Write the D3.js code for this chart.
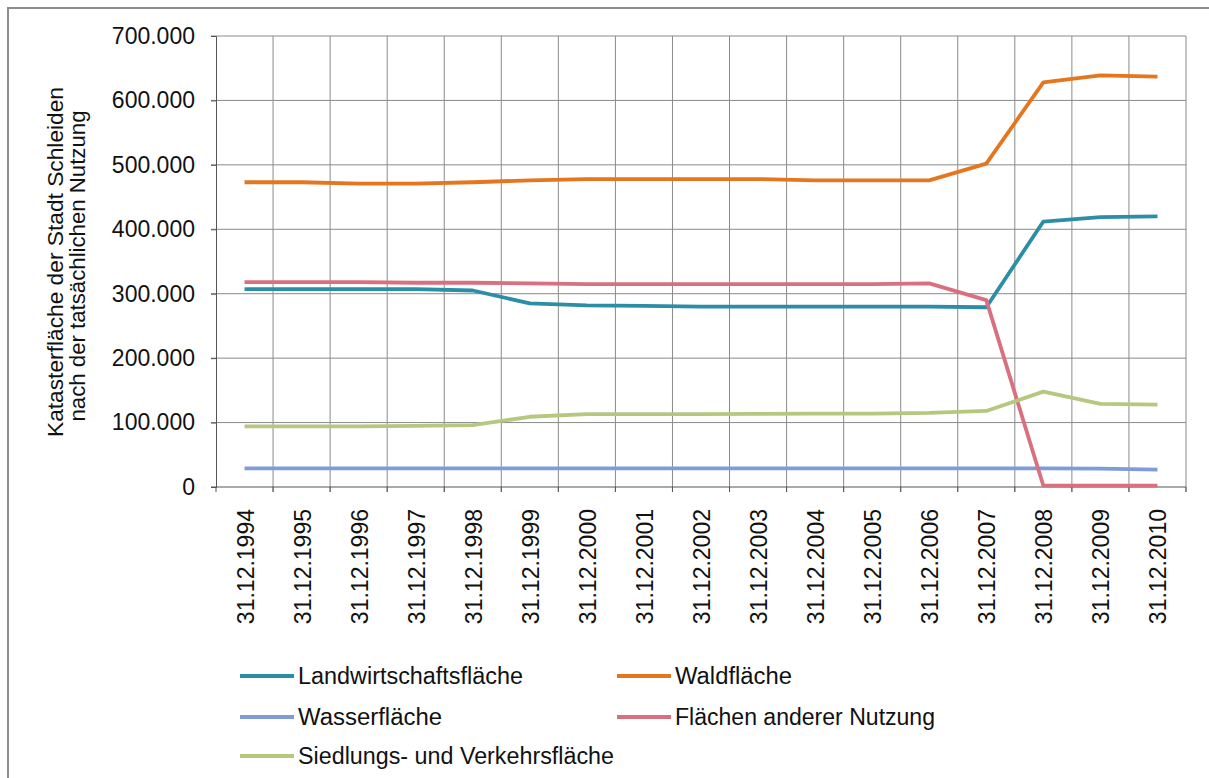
<!DOCTYPE html>
<html>
<head>
<meta charset="utf-8">
<script src="https://cdn.jsdelivr.net/npm/d3@7"></script>
<style>
  html, body { margin: 0; padding: 0; background: #ffffff; }
  svg { display: block; font-family: "Liberation Sans", Arial, sans-serif; }
</style>
</head>
<body>
<svg id="chart" width="1209" height="778"></svg>
<script>
// Stichtage (jeweils 31.12.)
const dates = ["31.12.1994","31.12.1995","31.12.1996","31.12.1997","31.12.1998","31.12.1999",
  "31.12.2000","31.12.2001","31.12.2002","31.12.2003","31.12.2004","31.12.2005",
  "31.12.2006","31.12.2007","31.12.2008","31.12.2009","31.12.2010"];

// Flächen nach tatsächlicher Nutzung
const landwirtschaft = [307000,307000,307000,307000,305000,285000,282000,281000,280000,280000,280000,280000,280000,279000,412000,419000,420000];
const wald           = [473000,473000,471000,471000,473000,476000,478000,478000,478000,478000,476000,476000,476000,502000,628000,639000,637000];
const wasser         = [29000,29000,29000,29000,29000,29000,29000,29000,29000,29000,29000,29000,29000,29000,29000,28500,27000];
const andereNutzung  = [318000,318000,318000,317000,317000,316000,315000,315000,315000,315000,315000,315000,316000,290000,2000,2000,2000];
const siedlung       = [94000,94000,94000,95000,96000,109000,113000,113000,113000,113500,114000,114000,115000,118000,148000,129000,128000];

const yTicks = [0,100000,200000,300000,400000,500000,600000,700000];

const seriesNames  = ["Landwirtschaftsfläche","Waldfläche","Wasserfläche","Flächen anderer Nutzung","Siedlungs- und Verkehrsfläche"];
const seriesValues = [landwirtschaft, wald, wasser, andereNutzung, siedlung];
const seriesColors = ["#2c8ea6","#e4761f","#7f9bd8","#d8707f","#b6c77f"];

const svg = d3.select("#chart");

// outer frame of the chart object
svg.append("rect")
  .attr("x", 8).attr("y", 8).attr("width", 1240).attr("height", 800)
  .attr("fill", "#ffffff").attr("stroke", "#8c8c8c").attr("stroke-width", 2);

const plot = { left: 216, right: 1186, top: 36, bottom: 487 };

const x = d3.scaleBand().domain(dates).range([plot.left, plot.right]).paddingInner(0).paddingOuter(0);
const xc = d => x(d) + x.bandwidth() / 2;
const y = d3.scaleLinear().domain([0, 700000]).range([plot.bottom, plot.top]);

const de = d3.formatLocale({ decimal: ",", thousands: ".", grouping: [3], currency: ["", " €"] });
const fmt = de.format(",");

// horizontal gridlines
svg.append("g")
  .selectAll("line")
  .data(yTicks.filter(t => t > 0))
  .join("line")
  .attr("x1", plot.left - 5).attr("x2", plot.right)
  .attr("y1", d => y(d)).attr("y2", d => y(d))
  .attr("stroke", "#8a8a8a").attr("stroke-width", 1);

// vertical gridlines at category boundaries
const bounds = dates.slice(1).map(d => x(d)).concat([plot.right]);
svg.append("g")
  .selectAll("line")
  .data(bounds)
  .join("line")
  .attr("x1", d => d).attr("x2", d => d)
  .attr("y1", plot.top).attr("y2", plot.bottom + 5)
  .attr("stroke", "#8a8a8a").attr("stroke-width", 1);

// y axis
const yAxis = svg.append("g")
  .attr("transform", `translate(${plot.left},0)`)
  .call(d3.axisLeft(y).tickValues(yTicks).tickFormat(fmt).tickSize(5).tickPadding(16));
yAxis.select(".domain").attr("stroke", "#555555");
yAxis.selectAll(".tick line").attr("stroke", "#555555");
yAxis.selectAll("text").attr("font-size", 23).attr("fill", "#111111")
  .attr("font-family", "'Liberation Sans', Arial, sans-serif");

// x axis with tick marks on the boundaries
const xAxis = svg.append("g").attr("transform", `translate(0,${plot.bottom})`);
xAxis.append("line")
  .attr("x1", plot.left - 5).attr("x2", plot.right)
  .attr("y1", 0).attr("y2", 0)
  .attr("stroke", "#555555").attr("stroke-width", 1);
xAxis.selectAll("line.tk")
  .data(dates.map(d => x(d)).concat([plot.right]))
  .join("line").attr("class", "tk")
  .attr("x1", d => d).attr("x2", d => d)
  .attr("y1", 0).attr("y2", 5)
  .attr("stroke", "#555555");
xAxis.selectAll("text")
  .data(dates)
  .join("text")
  .attr("transform", d => `translate(${xc(d) + 9},${22}) rotate(-90)`)
  .attr("text-anchor", "end")
  .attr("font-size", 23)
  .attr("fill", "#111111")
  .text(d => d);

// y axis title
const title = svg.append("g").attr("transform", "translate(0,262) rotate(-90)");
title.append("text")
  .attr("x", 0).attr("y", 63)
  .attr("text-anchor", "middle")
  .attr("font-size", 22).attr("fill", "#111111")
  .attr("textLength", 350).attr("lengthAdjust", "spacingAndGlyphs")
  .text("Katasterfläche der Stadt Schleiden");
title.append("text")
  .attr("x", -4).attr("y", 85)
  .attr("text-anchor", "middle")
  .attr("font-size", 22).attr("fill", "#111111")
  .attr("textLength", 311).attr("lengthAdjust", "spacingAndGlyphs")
  .text("nach der tatsächlichen Nutzung");

// data lines
const line = d3.line()
  .x((v, i) => xc(dates[i]))
  .y(v => y(v));
svg.append("g")
  .selectAll("path")
  .data(seriesValues)
  .join("path")
  .attr("d", d => line(d))
  .attr("fill", "none")
  .attr("stroke", (d, i) => seriesColors[i])
  .attr("stroke-width", 3.8)
  .attr("stroke-linejoin", "round");

// legend
const legendPos = [
  { lx: 240, tx: 298, y: 676, w: 225 },
  { lx: 617, tx: 675, y: 676, w: 117 },
  { lx: 240, tx: 298, y: 717, w: 144 },
  { lx: 617, tx: 675, y: 717, w: 260 },
  { lx: 240, tx: 298, y: 756, w: 316 }
];
const legend = svg.append("g");
seriesNames.forEach((name, i) => {
  const p = legendPos[i];
  legend.append("line")
    .attr("x1", p.lx).attr("x2", p.lx + 54)
    .attr("y1", p.y).attr("y2", p.y)
    .attr("stroke", seriesColors[i]).attr("stroke-width", 3.8);
  legend.append("text")
    .attr("x", p.tx).attr("y", p.y + 8)
    .attr("font-size", 23).attr("fill", "#111111")
    .attr("textLength", p.w).attr("lengthAdjust", "spacingAndGlyphs")
    .text(name);
});
</script>
</body>
</html>
